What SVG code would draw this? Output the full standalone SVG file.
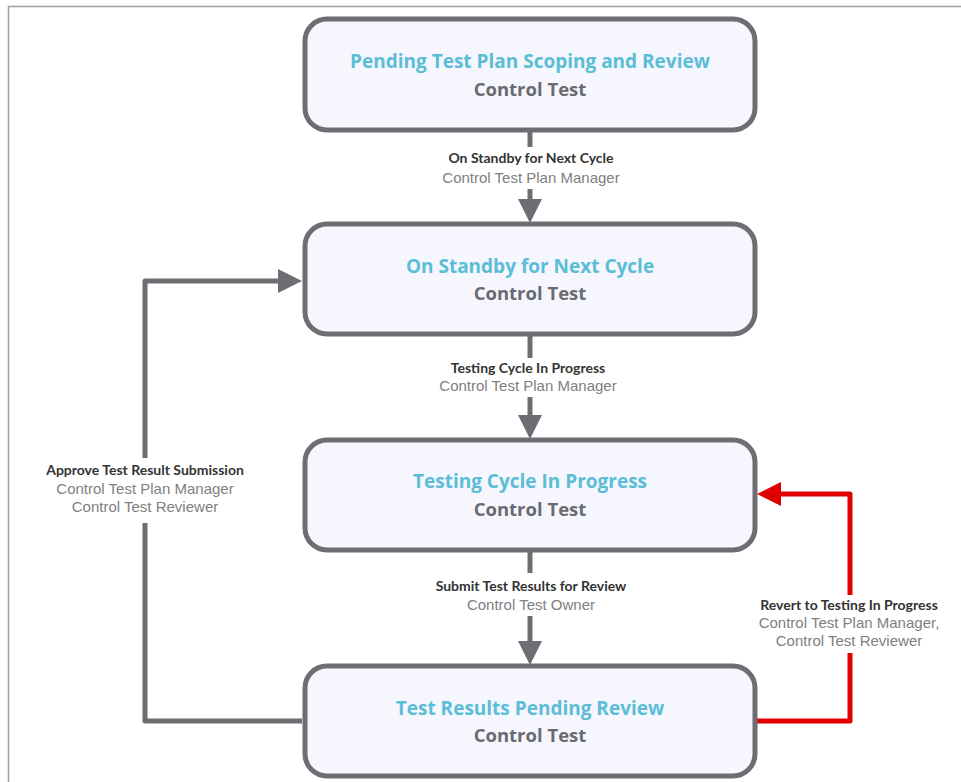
<svg xmlns="http://www.w3.org/2000/svg" width="961" height="782" viewBox="0 0 961 782">
<style>
.node rect{fill:#f5f6fe;stroke:#6e6d73;stroke-width:5}
.title{font-family:"Open Sans","Liberation Sans",sans-serif;font-weight:700;font-size:19px;fill:#5bbdd6;text-anchor:middle}
.sub{font-family:"Open Sans","Liberation Sans",sans-serif;font-weight:700;font-size:18.5px;fill:#6b6a70;text-anchor:middle}
.conn{fill:none;stroke:#6e6d73;stroke-width:5;stroke-linejoin:round}
.red{stroke:#e00000}
.lb{font-family:Lato,"Open Sans",sans-serif;font-weight:700;font-size:14px;fill:#333;text-anchor:middle}
.lr{font-family:"Liberation Sans",Arial,sans-serif;font-size:15px;fill:#808080;text-anchor:middle}
</style>
<defs>
<marker id="ag" viewBox="0 0 24 24" markerWidth="24" markerHeight="24" refX="0" refY="12" orient="auto" markerUnits="userSpaceOnUse"><path d="M0,0 L24,12 L0,24 z" fill="#6e6d73"/></marker>
<marker id="ar" viewBox="0 0 24 24" markerWidth="24" markerHeight="24" refX="0" refY="12" orient="auto" markerUnits="userSpaceOnUse"><path d="M0,0 L24,12 L0,24 z" fill="#e00000"/></marker>
</defs>
<rect x="8.5" y="6.5" width="1000" height="1000" fill="#fff" stroke="#a0a0a0" stroke-width="1.5"/>
<g id="connectors">
<path class="conn" d="M530,131 L530,147"/>
<path class="conn" d="M530,189 L530,199" marker-end="url(#ag)"/>
<path class="conn" d="M530,335 L530,358"/>
<path class="conn" d="M530,397 L530,415" marker-end="url(#ag)"/>
<path class="conn" d="M530,551 L530,573"/>
<path class="conn" d="M530,616 L530,641" marker-end="url(#ag)"/>
<path class="conn" d="M302,721 L145,721 L145,523"/>
<path class="conn" d="M145,458 L145,281 L278,281" marker-end="url(#ag)"/>
<path class="conn red" d="M757,721 L850,721 L850,653"/>
<path class="conn red" d="M850,595 L850,494 L781,494" marker-end="url(#ar)"/>
<text class="lb" x="531" y="163">On Standby for Next Cycle</text>
<text class="lr" x="531" y="183">Control Test Plan Manager</text>
<text class="lb" x="528" y="373">Testing Cycle In Progress</text>
<text class="lr" x="528" y="391">Control Test Plan Manager</text>
<text class="lb" x="531" y="591">Submit Test Results for Review</text>
<text class="lr" x="531" y="610">Control Test Owner</text>
<text class="lb" x="145" y="475">Approve Test Result Submission</text>
<text class="lr" x="145" y="494">Control Test Plan Manager</text>
<text class="lr" x="145" y="512">Control Test Reviewer</text>
<text class="lb" x="849" y="610">Revert to Testing In Progress</text>
<text class="lr" x="849" y="628">Control Test Plan Manager,</text>
<text class="lr" x="849" y="646">Control Test Reviewer</text>
</g>
<g id="n1" class="node">
<rect x="305" y="19" width="450" height="111" rx="22"/>
<text class="title" x="530" y="68">Pending Test Plan Scoping and Review</text>
<text class="sub" x="530" y="96">Control Test</text>
</g>
<g id="n2" class="node">
<rect x="305" y="224" width="450" height="110" rx="22"/>
<text class="title" x="530" y="273">On Standby for Next Cycle</text>
<text class="sub" x="530" y="300">Control Test</text>
</g>
<g id="n3" class="node">
<rect x="305" y="440" width="450" height="110" rx="22"/>
<text class="title" x="530" y="488">Testing Cycle In Progress</text>
<text class="sub" x="530" y="516">Control Test</text>
</g>
<g id="n4" class="node">
<rect x="305" y="666" width="450" height="110" rx="22"/>
<text class="title" x="530" y="715">Test Results Pending Review</text>
<text class="sub" x="530" y="742">Control Test</text>
</g>
</svg>
